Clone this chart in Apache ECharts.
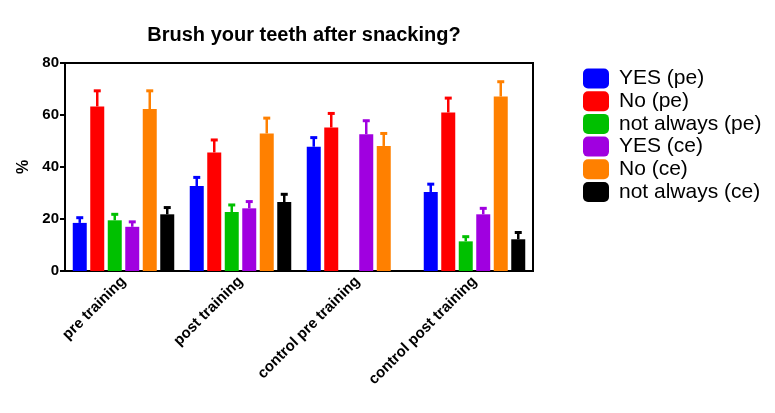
<html>
<head>
    <meta charset="utf-8" />
    <script src="https://cdn.jsdelivr.net/npm/echarts@6/dist/echarts.min.js"></script>
    <style>
        html, body { margin: 0; padding: 0; background: #fff; }
        #chart { width: 775px; height: 413px; }
    </style>
</head>
<body>
    <div id="chart"></div>
    <script>
        // categories + series values (%), upper error in *Err
        var categories = ['pre training', 'post training', 'control pre training', 'control post training'];
        var yesPe = [18.5, 32.7, 47.8, 30.4];
        var noPe = [63.3, 45.6, 55.2, 61];
        var notAlwaysPe = [19.5, 22.7, null, 11.4];
        var yesCe = [17, 24.1, 52.6, 21.8];
        var noCe = [62.3, 52.9, 48.1, 67.1];
        var notAlwaysCe = [21.8, 26.5, null, 12.2];

        var yesPeErr = [2, 3.3, 3.5, 3];
        var noPeErr = [6, 4.8, 5.4, 5.5];
        var notAlwaysPeErr = [2.3, 2.7, null, 1.8];
        var yesCeErr = [1.9, 2.6, 5.2, 2.3];
        var noCeErr = [7, 5.9, 4.8, 5.7];
        var notAlwaysCeErr = [2.6, 3, null, 2.6];

        var yTicks = [0, 20, 40, 60, 80];

        var names = ['YES (pe)', 'No (pe)', 'not always (pe)', 'YES (ce)', 'No (ce)', 'not always (ce)'];
        var colors = ['#0000ff', '#ff0000', '#00c000', '#a000e0', '#ff8000', '#000000'];
        var values = [yesPe, noPe, notAlwaysPe, yesCe, noCe, notAlwaysCe];
        var errors = [yesPeErr, noPeErr, notAlwaysPeErr, yesCeErr, noCeErr, notAlwaysCeErr];

        var BAR_W = 14, STEP = 17.5;
        var FONT = '"Liberation Sans", Arial, sans-serif';

        var series = [];
        values.forEach(function (vals, i) {
            series.push({
                name: names[i],
                type: 'bar',
                data: vals,
                barWidth: BAR_W,
                barGap: '25%',
                itemStyle: { color: colors[i] },
                z: 3
            });
        });
        // error bars (upper only), one custom series per group
        values.forEach(function (vals, i) {
            var d = [];
            vals.forEach(function (v, k) {
                if (v != null) d.push([k, v, errors[i][k]]);
            });
            series.push({
                name: names[i] + ' err',
                type: 'custom',
                data: d,
                encode: { x: 0, y: 1 },
                z: 4,
                silent: true,
                renderItem: function (params, api) {
                    var k = api.value(0), v = api.value(1), e = api.value(2);
                    var base = api.coord([k, v]);
                    var top = api.coord([k, v + e]);
                    var x = base[0] + (i - 2.5) * STEP;
                    var style = { stroke: colors[i], lineWidth: 2.5 };
                    return {
                        type: 'group',
                        children: [
                            { type: 'line', shape: { x1: x, y1: base[1], x2: x, y2: top[1] }, style: style },
                            { type: 'line', shape: { x1: x - 3.5, y1: top[1], x2: x + 3.5, y2: top[1] }, style: { stroke: colors[i], lineWidth: 3 } }
                        ]
                    };
                }
            });
        });

        var myChart = echarts.init(document.getElementById('chart'));
        myChart.setOption({
            animation: false,
            backgroundColor: '#fff',
            title: {
                text: 'Brush your teeth after snacking?',
                left: 299,
                textAlign: 'center',
                top: 20,
                textStyle: { fontFamily: FONT, fontSize: 20, fontWeight: 'bold', color: '#000' }
            },
            legend: {
                data: names,
                orient: 'vertical',
                left: 578,
                top: 63,
                itemWidth: 26,
                itemHeight: 20,
                itemGap: 1.7,
                icon: 'roundRect',
                textStyle: { fontFamily: FONT, fontSize: 21, lineHeight: 21, color: '#000', padding: [0, 0, 0, 5] }
            },
            grid: {
                left: 65, right: 242, top: 63, bottom: 142,
                show: true, borderColor: '#000', borderWidth: 2, backgroundColor: 'transparent'
            },
            xAxis: {
                type: 'category',
                data: categories,
                axisLine: { lineStyle: { color: '#000', width: 2 } },
                axisTick: { alignWithLabel: true, length: 5, lineStyle: { color: '#000', width: 2 } },
                axisLabel: {
                    rotate: 45, interval: 0, margin: 8,
                    fontFamily: FONT, fontSize: 15, fontWeight: 'bold', color: '#000'
                }
            },
            yAxis: {
                type: 'value',
                min: yTicks[0],
                max: yTicks[yTicks.length - 1],
                interval: 20,
                name: '%',
                nameLocation: 'middle',
                nameGap: 33,
                nameRotate: 90,
                nameTextStyle: { fontFamily: FONT, fontSize: 16, fontWeight: 'bold', color: '#000' },
                splitLine: { show: false },
                axisLine: { show: true, lineStyle: { color: '#000', width: 2 } },
                axisTick: { show: true, length: 5, lineStyle: { color: '#000', width: 2 } },
                axisLabel: { fontFamily: FONT, fontSize: 15, fontWeight: 'bold', color: '#000', margin: 6 }
            },
            series: series
        });
    </script>
</body>
</html>
